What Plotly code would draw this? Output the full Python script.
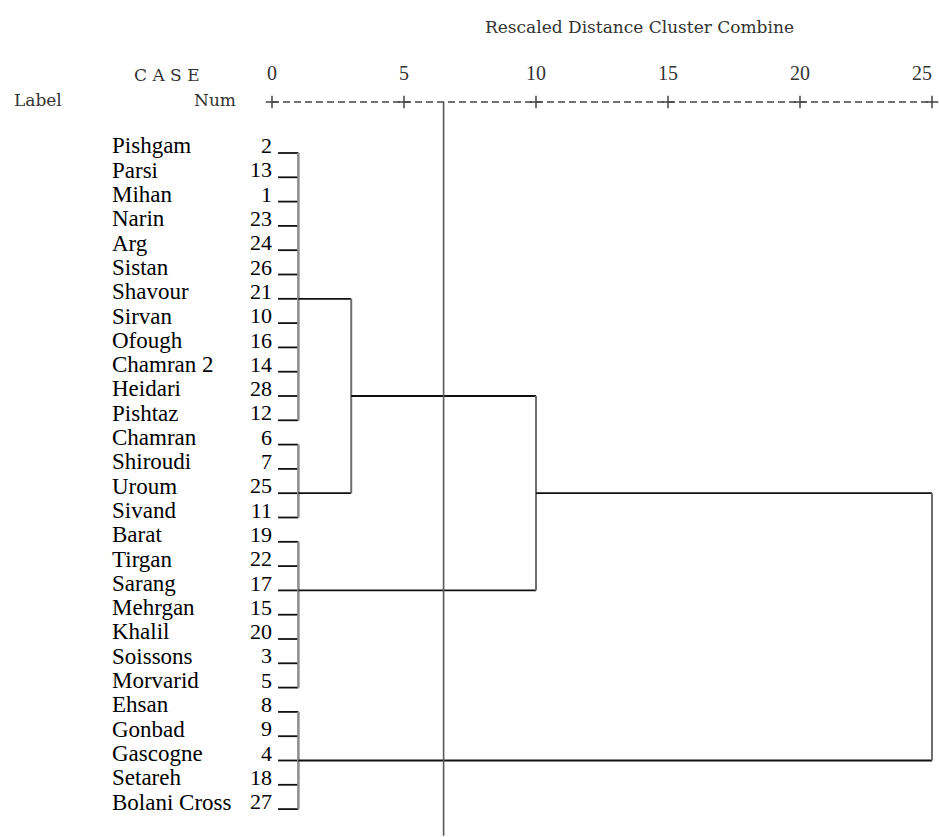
import plotly.graph_objects as go

# ---------------- data ----------------
labels = ["Pishgam", "Parsi", "Mihan", "Narin", "Arg", "Sistan", "Shavour", "Sirvan",
          "Ofough", "Chamran 2", "Heidari", "Pishtaz", "Chamran", "Shiroudi", "Uroum",
          "Sivand", "Barat", "Tirgan", "Sarang", "Mehrgan", "Khalil", "Soissons",
          "Morvarid", "Ehsan", "Gonbad", "Gascogne", "Setareh", "Bolani Cross"]
case_nums = [2, 13, 1, 23, 24, 26, 21, 10, 16, 14, 28, 12, 6, 7, 25, 11, 19, 22, 17,
             15, 20, 3, 5, 8, 9, 4, 18, 27]

# leaf groups that merge at the lowest level (first row, last row)
group_first = [0, 12, 16, 23]
group_last = [11, 15, 22, 27]
leaf_merge_dist = 1.0
leaf_start = 0.23

# higher-level links: row of upper branch, row of lower branch, merge distance,
# distance where each branch starts
link_top_row = [6, 10, 14]
link_bottom_row = [14, 18, 25]
link_dist = [3.0, 10.0, 25.0]
link_top_from = [leaf_merge_dist, 3.0, 10.0]
link_bottom_from = [leaf_merge_dist, leaf_merge_dist, leaf_merge_dist]

axis_ticks = [0, 5, 10, 15, 20, 25]
cut_dist = 6.5

# ---------------- geometry helpers ----------------
W, H = 940, 837
X0PX, XSCALE = 272.0, 26.4
Y0PX, YSCALE = 153.0, 24.3
xr = [-X0PX / XSCALE, (W - X0PX) / XSCALE]
yr = [(H - Y0PX) / YSCALE, -Y0PX / YSCALE]
AXIS_ROW = (102 - Y0PX) / YSCALE
TICKLAB_ROW = (75 - Y0PX) / YSCALE

fig = go.Figure()

def seg(xs, ys, color="black", width=1.5, dash=None):
    fig.add_trace(go.Scatter(x=xs, y=ys, mode="lines", hoverinfo="skip",
                             line=dict(color=color, width=width, dash=dash),
                             showlegend=False))

# leaf ticks
for i in range(len(labels)):
    seg([leaf_start, leaf_merge_dist], [i, i], color="#111111", width=1.8)

# group brackets
for a, b in zip(group_first, group_last):
    seg([leaf_merge_dist, leaf_merge_dist], [a, b], color="#8c8c8c", width=2.5)

# links
for tr, br, d, tf, bf in zip(link_top_row, link_bottom_row, link_dist,
                              link_top_from, link_bottom_from):
    seg([tf, d], [tr, tr], color="#111111", width=1.8)
    seg([bf, d], [br, br], color="#111111", width=1.8)
    seg([d, d], [tr, br], color="#6f6f6f", width=2)

# cut line
seg([cut_dist, cut_dist], [AXIS_ROW, yr[0] - 0.05], color="#5a5a5a", width=1.6)

# dashed axis line with + ticks
seg([axis_ticks[0], axis_ticks[-1]], [AXIS_ROW, AXIS_ROW], color="#444444",
    width=1.3, dash="7px,4px")
fig.add_trace(go.Scatter(x=axis_ticks, y=[AXIS_ROW] * len(axis_ticks), mode="markers",
                         marker=dict(symbol="cross-thin", size=9,
                                     line=dict(color="#444444", width=1.5)),
                         hoverinfo="skip", showlegend=False))
tick_pos = ["middle center"] * (len(axis_ticks) - 1) + ["middle left"]
fig.add_trace(go.Scatter(x=axis_ticks, y=[TICKLAB_ROW] * len(axis_ticks), mode="text",
                         text=[str(t) for t in axis_ticks], textposition=tick_pos,
                         textfont=dict(family="Liberation Serif", size=20, color="#333333"),
                         hoverinfo="skip", showlegend=False))

# case labels and numbers
label_rows = [i - 0.22 for i in range(len(labels))]
fig.add_trace(go.Scatter(x=[(112 - X0PX) / XSCALE] * len(labels), y=label_rows,
                         mode="text", text=labels, textposition="middle right",
                         textfont=dict(family="Liberation Serif", size=23, color="black"),
                         hoverinfo="skip", showlegend=False))
fig.add_trace(go.Scatter(x=[0.0] * len(labels), y=label_rows,
                         mode="text", text=[str(n) for n in case_nums],
                         textposition="middle left",
                         textfont=dict(family="Liberation Serif", size=22, color="black"),
                         hoverinfo="skip", showlegend=False))

hdr = dict(family="DejaVu Serif", size=17, color="#333333")
fig.add_annotation(x=483 / W, y=1 - 27 / H, xref="paper", yref="paper", xanchor="left",
                   yanchor="middle", showarrow=False,
                   text="Rescaled Distance Cluster Combine", font=hdr)
fig.add_annotation(x=132 / W, y=1 - 75 / H, xref="paper", yref="paper", xanchor="left",
                   yanchor="middle", showarrow=False, text="C A S E", font=hdr)
fig.add_annotation(x=12 / W, y=1 - 100 / H, xref="paper", yref="paper", xanchor="left",
                   yanchor="middle", showarrow=False, text="Label", font=hdr)
fig.add_annotation(x=238 / W, y=1 - 100 / H, xref="paper", yref="paper", xanchor="right",
                   yanchor="middle", showarrow=False, text="Num", font=hdr)

fig.update_layout(width=W, height=H, autosize=False,
                  margin=dict(l=0, r=0, t=0, b=0),
                  paper_bgcolor="white", plot_bgcolor="white",
                  xaxis=dict(range=xr, visible=False, fixedrange=True),
                  yaxis=dict(range=yr, visible=False, fixedrange=True))

fig.write_html("out.html", config={"displayModeBar": False},
               post_script="document.body.style.margin='0';document.body.style.overflow='hidden';")
